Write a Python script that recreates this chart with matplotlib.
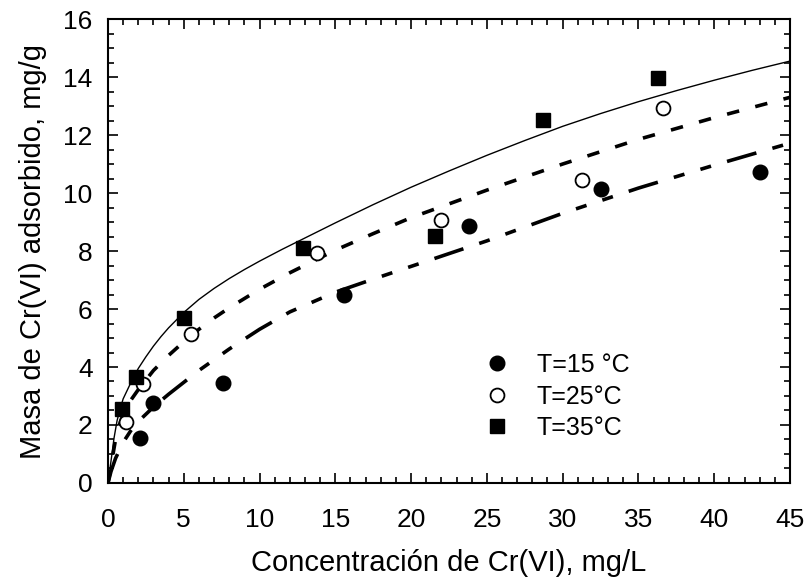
import matplotlib
matplotlib.use("Agg")
import matplotlib.pyplot as plt
from matplotlib.ticker import MultipleLocator

plt.rcParams["font.family"] = ["Liberation Sans", "DejaVu Sans"]
plt.rcParams["lines.scale_dashes"] = False

# experimental points
c15 = [2.1, 3.0, 7.6, 15.6, 23.8, 32.5, 43.0]
q15 = [1.55, 2.75, 3.45, 6.5, 8.85, 10.15, 10.72]
c25 = [1.2, 2.3, 5.5, 13.8, 22.0, 31.3, 36.6]
q25 = [2.1, 3.4, 5.15, 7.92, 9.07, 10.45, 12.92]
c35 = [0.9, 1.85, 5.0, 12.9, 21.6, 28.7, 36.3]
q35 = [2.55, 3.65, 5.7, 8.1, 8.52, 12.52, 13.95]

# fitted curves
fit35_x = [0, 0.12, 0.25, 0.4, 0.6, 0.8, 1.0, 1.5, 2, 2.5, 3, 3.5, 4, 5, 6, 7, 8, 9, 10, 11.5, 13, 15, 17.5, 20, 22.5, 25, 27.5, 30, 32.5, 35, 37.5, 40, 42.5, 45]
fit35_y = [0, 0.45, 0.95, 1.55, 2.15, 2.55, 2.9, 3.45, 3.95, 4.35, 4.72, 5.05, 5.35, 5.88, 6.33, 6.71, 7.05, 7.36, 7.65, 8.06, 8.45, 8.97, 9.6, 10.2, 10.76, 11.3, 11.81, 12.3, 12.74, 13.15, 13.53, 13.89, 14.23, 14.55]
fit25_x = [0, 0.15, 0.3, 0.5, 0.75, 1.0, 1.5, 2, 3, 4, 5, 6, 7, 8, 10, 12, 15, 17.5, 20, 25, 30, 35, 40, 45]
fit25_y = [0, 0.4, 0.9, 1.5, 2.0, 2.35, 2.85, 3.22, 3.88, 4.4, 4.87, 5.3, 5.69, 6.04, 6.68, 7.25, 8.03, 8.6, 9.15, 10.1, 11.0, 11.85, 12.6, 13.3]
fit15_x = [0, 0.2, 0.5, 1, 1.5, 2, 3, 4, 5, 6, 8, 10, 12, 15, 17.5, 20, 25, 30, 35, 40, 45]
fit15_y = [0, 0.4, 0.85, 1.4, 1.8, 2.12, 2.62, 3.06, 3.47, 3.88, 4.62, 5.3, 5.9, 6.58, 7.03, 7.47, 8.35, 9.3, 10.17, 10.96, 11.72]

fig = plt.figure(figsize=(8.1, 5.88), dpi=100)
ax = fig.add_axes([0.1333, 0.1786, 0.842, 0.789])

ax.plot(fit35_x, fit35_y, color="black", lw=1.0)
ax.plot(fit25_x, fit25_y, color="black", lw=2.6, dashes=(9, 12))
ax.plot(fit15_x, fit15_y, color="black", lw=2.6, dashes=(22, 12, 8, 12, 8, 12))

ax.plot(c15, q15, "o", color="black", ms=10.5, label="T=15 °C")
ax.plot(c25, q25, "o", mfc="white", mec="black", mew=1.3, ms=10, label="T=25°C")
ax.plot(c35, q35, "s", color="black", ms=10, label="T=35°C")

ax.set_xlim(0, 45)
ax.set_ylim(0, 16)
ax.xaxis.set_major_locator(MultipleLocator(5))
ax.xaxis.set_minor_locator(MultipleLocator(1))
ax.yaxis.set_major_locator(MultipleLocator(2))
ax.yaxis.set_minor_locator(MultipleLocator(0.5))
ax.tick_params(which="both", direction="in", top=True, right=True, width=1.2)
ax.tick_params(which="major", length=7, labelsize=19)
ax.tick_params(which="minor", length=4)
ax.tick_params(axis="x", pad=18)
ax.tick_params(axis="y", pad=11)
for s in ax.spines.values():
    s.set_linewidth(1.5)

ax.set_xlabel("Concentración de Cr(VI), mg/L", fontsize=21, labelpad=12)
ax.set_ylabel("Masa de Cr(VI) adsorbido, mg/g", fontsize=21, labelpad=12)

ax.legend(loc="upper left", bbox_to_anchor=(0.552, 0.28), frameon=False, fontsize=18,
          handlelength=1.0, handletextpad=1.1, labelspacing=0.3, borderpad=0, borderaxespad=0)

fig.savefig("out.png", dpi=100)
